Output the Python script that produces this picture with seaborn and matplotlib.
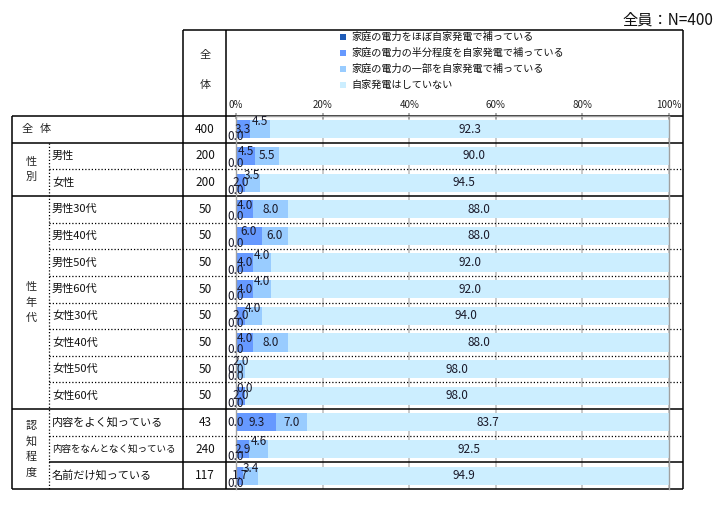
import numpy as np
import matplotlib
matplotlib.use("Agg")
import matplotlib.pyplot as plt
from matplotlib.transforms import blended_transform_factory
import seaborn as sns

# データ
rows = ["全体", "男性", "女性",
        "男性30代", "男性40代", "男性50代", "男性60代",
        "女性30代", "女性40代", "女性50代", "女性60代",
        "内容をよく知っている", "内容をなんとなく知っている", "名前だけ知っている"]
n_values = [400, 200, 200, 50, 50, 50, 50, 50, 50, 50, 50, 43, 240, 117]
s_almost = [0.0] * 14
s_half = [3.3, 4.5, 2.0, 4.0, 6.0, 4.0, 4.0, 2.0, 4.0, 0.0, 2.0, 9.3, 2.9, 1.7]
s_part = [4.5, 5.5, 3.5, 8.0, 6.0, 4.0, 4.0, 4.0, 8.0, 2.0, 0.0, 7.0, 4.6, 3.4]
s_none = [92.3, 90.0, 94.5, 88.0, 88.0, 92.0, 92.0, 94.0, 88.0, 98.0, 98.0, 83.7, 92.5, 94.9]
series_names = ["家庭の電力をほぼ自家発電で補っている",
                "家庭の電力の半分程度を自家発電で補っている",
                "家庭の電力の一部を自家発電で補っている",
                "自家発電はしていない"]
groups = [("全 体", 0, 0), ("性別", 1, 2), ("性年代", 3, 10), ("認知程度", 11, 13)]
colors = ["#1f5cb8", "#6699ff", "#99ccff", "#cceeff"]

sns.set_style("white")
plt.rcParams["font.family"] = ["Noto Sans CJK JP", "DejaVu Sans"]

fig = plt.figure(figsize=(7.18, 5.31), dpi=100)
# overlay in pixel coords for the table
tab = fig.add_axes([0, 0, 1, 1])
tab.set_xlim(0, 718)
tab.set_ylim(531, 0)
tab.axis("off")

W, H = 718, 531
x0, x1 = 236, 669
top, bot = 116, 489
ax = fig.add_axes([x0 / W, 1 - bot / H, (x1 - x0) / W, (bot - top) / H])

series = [s_almost, s_half, s_part, s_none]
cums = np.cumsum(np.array(series), axis=0)
for k in range(3, -1, -1):
    sns.barplot(x=cums[k], y=rows, orient="h", color=colors[k], width=0.68,
                saturation=1, linewidth=0, ax=ax)

ax.set_xlim(0, 100)
ax.set_ylim(13.5, -0.5)
ax.set_yticks([])
ax.set(xlabel="", ylabel="")
ax.xaxis.tick_top()
ax.set_xticks([0, 20, 40, 60, 80, 100])
ax.set_xticklabels(["0%", "20%", "40%", "60%", "80%", "100%"], fontsize=7, color="#222222")
ax.tick_params(axis="x", direction="inout", length=5, color="#a0a0a0", width=1.2, pad=2)
ax.grid(axis="x", color="#c0c0c0", lw=1.2)
ax.set_axisbelow(True)
for side in ["left", "right", "top"]:
    ax.spines[side].set_color("#a0a0a0")
    ax.spines[side].set_linewidth(1)
ax.spines["bottom"].set_visible(False)

# value labels
px = 0.72
for i in range(len(rows)):
    v1, v2, v3, v4 = s_almost[i], s_half[i], s_part[i], s_none[i]
    o1 = 7.5 if v2 < 8 else 0
    if v3 < 5:
        o2, o3 = 0, -7.5
    elif v2 < 8:
        o2, o3 = -4, 0
    else:
        o2, o3 = 0, 0
    pos = [(v1 / 2, o1, v1), (v1 + v2 / 2, o2, v2),
           (v1 + v2 + v3 / 2, o3, v3), (v1 + v2 + v3 + v4 / 2, 0, v4)]
    for xc, off, v in pos:
        ax.annotate(f"{v:.1f}", (xc, i), xytext=(0, -off * px), textcoords="offset points",
                    ha="center", va="center", fontsize=8.5, color="#1a1a2a",
                    annotation_clip=False)

# table lines
tr = blended_transform_factory(tab.transData, ax.transData)
lk = dict(color="black", lw=1.1, solid_capstyle="butt", clip_on=False)
dk = dict(color="black", lw=0.9, linestyle=(0, (1, 1.6)), clip_on=False)
tab.plot([183, 683], [30, 30], **lk)
for xv in [183, 226, 683]:
    tab.plot([xv, xv], [30, bot], **lk)
tab.plot([12, 12], [top, bot], **lk)
tab.plot([49, 49], [143, bot], **dk)
solid_full = [-0.5, 0.5, 2.5, 10.5, 13.5]
solid_part = [12.5]
for b in solid_full:
    ax.plot([12, 683], [b, b], transform=tr, **lk)
for b in solid_part:
    ax.plot([49, 683], [b, b], transform=tr, **lk)
for b in [1.5, 3.5, 4.5, 5.5, 6.5, 7.5, 8.5, 9.5, 11.5]:
    ax.plot([49, 683], [b, b], transform=tr, **dk)

# row labels and N (shrink long labels to fit the cell)
for i, (lab, n) in enumerate(zip(rows, n_values)):
    if i > 0:
        fs = min(8, 124 / len(lab) / 1.389)
        ax.text(52, i, lab, transform=tr, ha="left", va="center", fontsize=fs, color="#111111")
    ax.text(205, i, str(n), transform=tr, ha="center", va="center", fontsize=8.5, color="#111111")

# group labels
for name, a, b in groups:
    if a == b:
        ax.text(27, a, name[0], transform=tr, ha="center", va="center", fontsize=8)
        ax.text(45.5, a, name[-1], transform=tr, ha="center", va="center", fontsize=8)
        continue
    mid = (a + b) / 2
    m = len(name)
    for j, ch in enumerate(name):
        dy = (j - (m - 1) / 2) * 15.5
        ax.annotate(ch, (31, mid), xycoords=tr, xytext=(0, -dy * px), textcoords="offset points",
                    ha="center", va="center", fontsize=8)

# header
tab.text(205, 55, "全", ha="center", va="center", fontsize=8)
tab.text(205, 85, "体", ha="center", va="center", fontsize=8)
tab.text(713, 20, "全員：N=400", ha="right", va="center", fontsize=11, color="#111111")

# legend
for k, name in enumerate(series_names):
    yy = 37 + k * 16
    tab.scatter([343], [yy], marker="s", s=16, color=colors[k], linewidths=0)
    tab.text(351, yy, name, ha="left", va="center", fontsize=7.3, color="#111111")

fig.savefig("out.png", dpi=100)
